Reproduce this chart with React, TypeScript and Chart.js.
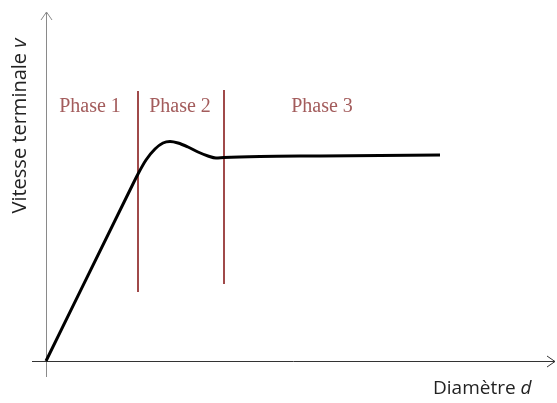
import React, { useEffect, useRef } from "react";
import { Chart, registerables } from "chart.js";

Chart.register(...registerables);

// Curve: diameter d vs terminal velocity v (arbitrary units)
const curveD = [0, 8.4, 9.2, 10.0, 10.9, 11.7, 12.4, 13.2, 14.2, 15.2, 16.2, 17.0, 17.8, 21.4, 27.4, 33.4, 39.4];
const curveV = [0, 17.1, 18.7, 20.1, 21.2, 21.8, 21.95, 21.8, 21.4, 20.9, 20.5, 20.3, 20.35, 20.45, 20.5, 20.55, 20.6];

// Phase boundaries (vertical lines)
const boundaryD = [9.2, 17.8];
const boundaryTop = [27.0, 27.1];
const boundaryBottom = [6.9, 7.7];

// Phase labels
const phaseLabels = ["Phase 1", "Phase 2", "Phase 3"];
const phaseLabelD = [4.4, 13.4, 27.6];
const phaseLabelV = 24.9;

const xTitle = "Diamètre ";
const xTitleVar = "d";
const yTitle = "Vitesse terminale ";
const yTitleVar = "v";

const RED = "#a04a4a";
const RED_TEXT = "#a35c5c";

const axesPlugin = {
  id: "axesArrows",
  beforeDatasetsDraw(chart: any) {
    const { ctx, chartArea, scales } = chart;
    const x0 = scales.x.getPixelForValue(0);
    const y0 = scales.y.getPixelForValue(0);
    ctx.save();
    // y axis
    ctx.strokeStyle = "#8a8a8a";
    ctx.lineWidth = 1;
    ctx.beginPath();
    ctx.moveTo(Math.round(x0) + 0.5, chartArea.bottom);
    ctx.lineTo(Math.round(x0) + 0.5, chartArea.top);
    ctx.moveTo(Math.round(x0) - 5, chartArea.top + 8);
    ctx.lineTo(Math.round(x0) + 0.5, chartArea.top);
    ctx.lineTo(Math.round(x0) + 6, chartArea.top + 8);
    ctx.stroke();
    // x axis
    ctx.strokeStyle = "#333333";
    ctx.beginPath();
    ctx.moveTo(chartArea.left, Math.round(y0) + 0.5);
    ctx.lineTo(chartArea.right, Math.round(y0) + 0.5);
    ctx.moveTo(chartArea.right - 8, Math.round(y0) - 5);
    ctx.lineTo(chartArea.right, Math.round(y0) + 0.5);
    ctx.lineTo(chartArea.right - 8, Math.round(y0) + 6);
    ctx.stroke();

    // phase labels
    ctx.fillStyle = RED_TEXT;
    ctx.font = '20px "Liberation Serif", serif';
    ctx.textAlign = "center";
    ctx.textBaseline = "alphabetic";
    phaseLabels.forEach((t, i) => {
      ctx.fillText(t, scales.x.getPixelForValue(phaseLabelD[i]), scales.y.getPixelForValue(phaseLabelV));
    });

    // axis titles
    ctx.fillStyle = "#222222";
    ctx.textAlign = "left";
    ctx.textBaseline = "middle";
    // x title
    const xn = '19px "Open Sans", sans-serif';
    const xi = 'italic 19px "Open Sans", sans-serif';
    ctx.font = xn;
    const w1 = ctx.measureText(xTitle).width;
    ctx.fillText(xTitle, 433, 389);
    ctx.font = xi;
    ctx.fillText(xTitleVar, 433 + w1, 389);
    // y title (rotated)
    const yn = '20px "Open Sans", sans-serif';
    const yi = 'italic 20px "Open Sans", sans-serif';
    ctx.save();
    ctx.translate(20, 126);
    ctx.rotate(-Math.PI / 2);
    ctx.font = yn;
    const v1 = ctx.measureText(yTitle).width;
    ctx.font = yi;
    const v2 = ctx.measureText(yTitleVar).width;
    const s = -(v1 + v2) / 2;
    ctx.font = yn;
    ctx.fillText(yTitle, s, 0);
    ctx.font = yi;
    ctx.fillText(yTitleVar, s + v1, 0);
    ctx.restore();
    ctx.restore();
  },
};

export default function App() {
  const ref = useRef<HTMLCanvasElement | null>(null);
  useEffect(() => {
    document.body.style.margin = "0";
    const canvas = ref.current!;
    const chart = new Chart(canvas, {
      type: "line",
      data: {
        datasets: [
          {
            data: curveD.map((d, i) => ({ x: d, y: curveV[i] })),
            borderColor: "#000000",
            borderWidth: 3,
            pointRadius: 0,
            tension: 0.4,
            cubicInterpolationMode: "monotone",
            fill: false,
          },
          ...boundaryD.map((d, i) => ({
            data: [
              { x: d, y: boundaryBottom[i] },
              { x: d, y: boundaryTop[i] },
            ],
            borderColor: RED,
            borderWidth: 2,
            pointRadius: 0,
            fill: false,
          })),
        ],
      },
      options: {
        animation: false,
        responsive: false,
        maintainAspectRatio: false,
        layout: { padding: { left: 32, right: 2, top: 12, bottom: 26 } },
        plugins: { legend: { display: false }, tooltip: { enabled: false } },
        scales: {
          x: { type: "linear", display: false, min: -1.4, max: 50.9 },
          y: { type: "linear", display: false, min: -1.6, max: 34.9 },
        },
      },
      plugins: [axesPlugin],
    } as any);
    return () => chart.destroy();
  }, []);
  return (
    <div style={{ width: 557, height: 403, background: "#fff" }}>
      <canvas ref={ref} width={557} height={403} style={{ display: "block" }} />
    </div>
  );
}
